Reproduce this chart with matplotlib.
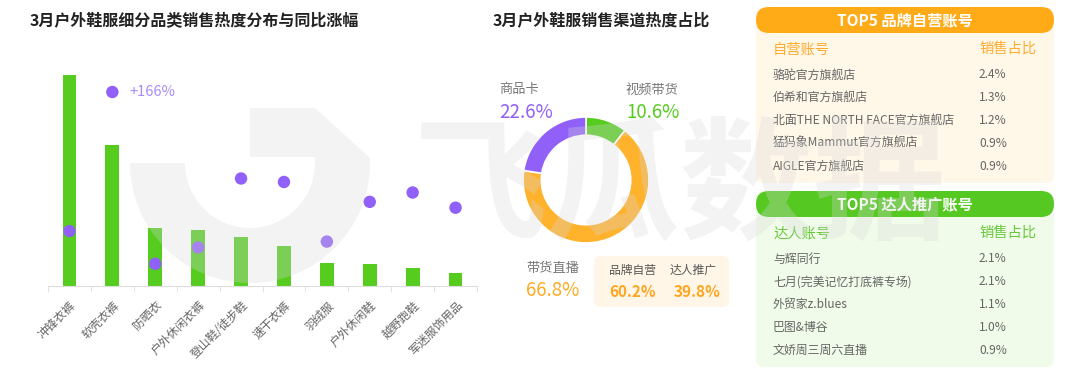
import matplotlib
matplotlib.use("Agg")
import matplotlib.pyplot as plt
from matplotlib.patches import FancyBboxPatch, Wedge, Polygon

plt.rcParams['font.family'] = ['Noto Sans CJK SC', 'DejaVu Sans']

# ---- data ----
categories = ['冲锋衣裤', '软壳衣裤', '防晒衣', '户外休闲衣裤', '登山鞋/徒步鞋',
              '速干衣裤', '羽绒服', '户外休闲鞋', '越野跑鞋', '军迷服饰用品']
heat = [211, 141, 58, 56, 49, 40, 23, 22, 18, 13]
growth = [47, 166, 19, 33, 92, 89, 38, 72, 80, 67]

channels = ['视频带货', '带货直播', '商品卡']
channel_share = [10.6, 66.8, 22.6]
live_split_labels = ['品牌自营', '达人推广']
live_split = ['60.2%', '39.8%']

brand_accounts = ['骆驼官方旗舰店', '伯希和官方旗舰店', '北面THE NORTH FACE官方旗舰店',
                  '猛犸象Mammut官方旗舰店', 'AIGLE官方旗舰店']
brand_share = ['2.4%', '1.3%', '1.2%', '0.9%', '0.9%']
kol_accounts = ['与辉同行', '七月(完美记忆打底裤专场)', '外贸家z.blues', '巴图&博谷', '文娇周三周六直播']
kol_share = ['2.1%', '2.1%', '1.1%', '1.0%', '0.9%']

GREEN = '#55CC1E'
ORANGE = '#FFB22C'
PURPLE = '#9160F8'
W, H = 1080, 370

fig = plt.figure(figsize=(10.8, 3.7), dpi=100)

# background axes in pixel coordinates
bg = fig.add_axes([0, 0, 1, 1])
bg.set_xlim(0, W)
bg.set_ylim(H, 0)
bg.axis('off')

bg.text(30, 20, '3月户外鞋服细分品类销售热度分布与同比涨幅', fontsize=11.5,
        fontweight='bold', color='#222222', va='center')
bg.text(493, 20, '3月户外鞋服销售渠道热度占比', fontsize=11.5,
        fontweight='bold', color='#222222', va='center')

# ---- bar + dot chart ----
ax = fig.add_axes([48 / W, (H - 286) / H, 429 / W, (286 - 60) / H])
ax.patch.set_visible(False)
x = list(range(len(categories)))
ax.bar(x, heat, width=0.32, color=GREEN, zorder=2)
ax.set_xlim(-0.5, len(categories) - 0.5)
ax.set_ylim(0, 226)
for s in ['top', 'right', 'left']:
    ax.spines[s].set_visible(False)
ax.spines['bottom'].set_color('#dddddd')
ax.set_yticks([])
ax.set_xticks(x)
ax.set_xticklabels(categories, rotation=45, ha='right', va='top',
                   rotation_mode='anchor', fontsize=8.5, color='#666666')
ax.tick_params(axis='x', which='major', length=0, pad=9)
ax.set_xticks([i - 0.5 for i in range(len(categories) + 1)], minor=True)
ax.tick_params(axis='x', which='minor', length=4, color='#dddddd')

ax2 = ax.twinx()
ax2.set_ylim(0, 166 * 226 / 194)
ax2.scatter(x, growth, s=80, color=PURPLE, zorder=3, edgecolors='none')
ax2.axis('off')
top_i = growth.index(max(growth))
ax2.annotate(f'+{growth[top_i]}%', (x[top_i], growth[top_i]), xytext=(12, 0),
             textcoords='offset points', va='center', ha='left',
             fontsize=10.5, color='#A98BF9')

# ---- donut ----
R = 63
size = 2.2 * R
dax = fig.add_axes([(586 - size / 2) / W, (H - 180 - size / 2) / H, size / W, size / H])
dax.pie(channel_share, colors=[GREEN, ORANGE, PURPLE], startangle=90, counterclock=False,
        radius=1, wedgeprops=dict(width=0.29, edgecolor='white', linewidth=1.2))
dax.set_xlim(-1.1, 1.1)
dax.set_ylim(-1.1, 1.1)
dax.set_aspect('equal')

label_pos = {'商品卡': (499, PURPLE), '视频带货': (626, GREEN), '带货直播': (526, '#FFAA22')}
for name, val in zip(channels, channel_share):
    lx, col = label_pos[name]
    ly = 268 if name == '带货直播' else 90
    bg.text(lx, ly, name, fontsize=9.5, color='#777777', va='center')
    bg.text(lx, ly + 22, f'{val}%', fontsize=13.5, color=col, va='center')

bg.add_patch(FancyBboxPatch((594, 256), 135, 51, boxstyle='round,pad=0,rounding_size=6',
                            fc='#FFF6E8', ec='none'))
for lx, lab, v in zip([609, 670], live_split_labels, live_split):
    bg.text(lx, 270, lab, fontsize=8.5, color='#555555', va='center')
    bg.text(lx + (0 if lx == 609 else 4), 292, v, fontsize=11, fontweight='bold',
            color='#FFA51F', va='center')


# ---- right panels ----
def panel(top, head_color, body_color, title, col_left, col_color, names, shares):
    bg.add_patch(FancyBboxPatch((756, top), 298, 176, boxstyle='round,pad=0,rounding_size=8',
                                fc=body_color, ec='none'))
    bg.add_patch(FancyBboxPatch((756, top), 298, 26, boxstyle='round,pad=0,rounding_size=13',
                                fc=head_color, ec='none'))
    bg.text(905, top + 13, title, fontsize=11, fontweight='bold', color='white',
            ha='center', va='center')
    bg.text(773, top + 42, col_left, fontsize=10.3, color=col_color, va='center')
    bg.text(979, top + 42, '销售占比', fontsize=10.3, color=col_color, va='center')
    for i, (n, s) in enumerate(zip(names, shares)):
        yy = top + 68 + i * 22.8
        bg.text(773, yy, n, fontsize=8.6, color='#666666', va='center')
        bg.text(979, yy, s, fontsize=8.6, color='#666666', va='center')


panel(7, '#FFAA17', '#FFF7E8', 'TOP5 品牌自营账号', '自营账号', '#FFAB2E',
      brand_accounts, brand_share)
panel(191, '#55C922', '#F1FBEA', 'TOP5 达人推广账号', '达人账号', '#66C93A',
      kol_accounts, kol_share)

# ---- watermark overlay ----
wm = fig.add_axes([0, 0, 1, 1], zorder=10)
wm.set_xlim(0, W)
wm.set_ylim(H, 0)
wm.axis('off')
wm.patch.set_visible(False)
WM_C, WM_A = '#d8d8d8', 0.3
wm.add_patch(Wedge((250, 163), 120, 0, 180, width=55, fc=WM_C, alpha=WM_A, ec='none'))
wm.add_patch(Polygon([(250, 108), (315, 108), (370, 158), (370, 163), (315, 163),
                      (315, 157), (250, 157)], closed=True, fc=WM_C, alpha=WM_A, ec='none'))
wm.text(681, 190, '飞瓜数据', fontsize=96, fontweight='bold', color=WM_C, alpha=WM_A,
        ha='center', va='center')

fig.savefig('out.png', dpi=100)
